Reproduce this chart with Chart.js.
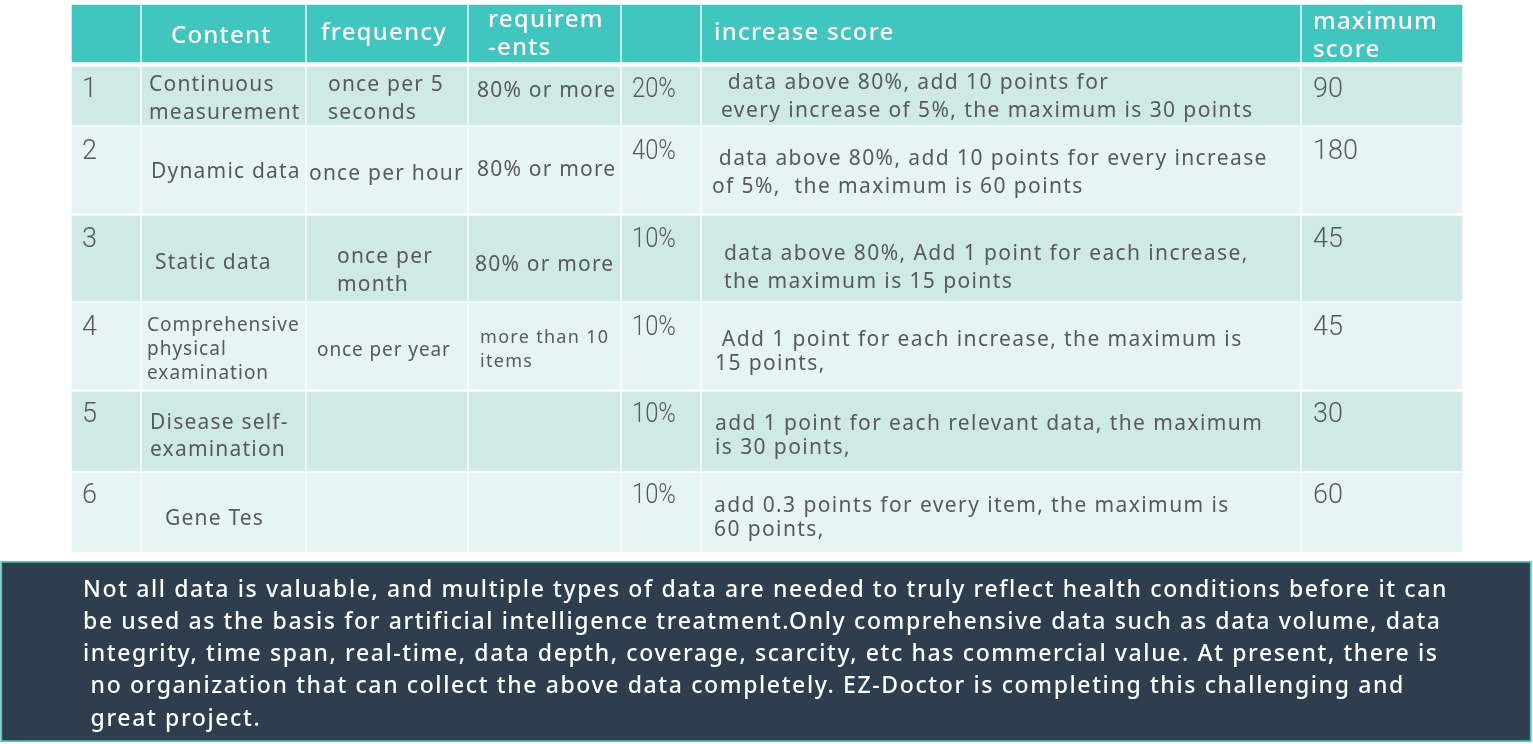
<!DOCTYPE html>
<html>
<head>
<meta charset="utf-8">
<script src="https://cdn.jsdelivr.net/npm/chart.js@4/dist/chart.umd.min.js"></script>
<style>
  html, body { margin: 0; padding: 0; background: #ffffff; }
  canvas { display: block; }
</style>
</head>
<body>
<canvas id="c" width="1533" height="744"></canvas>
<script>
// ---------- DATA ----------
const headers = ['', 'Content', 'frequency', 'requirem\n-ents', '', 'increase score', 'maximum\nscore'];
const ids = ['1', '2', '3', '4', '5', '6'];
const contents = ['Continuous\nmeasurement', 'Dynamic data', 'Static data', 'Comprehensive\nphysical\nexamination', 'Disease self-\nexamination', 'Gene Tes'];
const frequencies = ['once per 5\nseconds', 'once per hour', 'once per\nmonth', 'once per year', '', ''];
const requirements = ['80% or more', '80% or more', '80% or more', 'more than 10\nitems', '', ''];
const weights = ['20%', '40%', '10%', '10%', '10%', '10%'];
const increaseScores = [
  ' data above 80%, add 10 points for\nevery increase of 5%, the maximum is 30 points',
  ' data above 80%, add 10 points for every increase\nof 5%,  the maximum is 60 points',
  'data above 80%, Add 1 point for each increase,\nthe maximum is 15 points',
  ' Add 1 point for each increase, the maximum is\n15 points,',
  'add 1 point for each relevant data, the maximum\nis 30 points,',
  'add 0.3 points for every item, the maximum is\n60 points,'
];
const maxScores = [90, 180, 45, 45, 30, 60];
const note = [
  'Not all data is valuable, and multiple types of data are needed to truly reflect health conditions before it can',
  'be used as the basis for artificial intelligence treatment.Only comprehensive data such as data volume, data',
  'integrity, time span, real-time, data depth, coverage, scarcity, etc has commercial value. At present, there is',
  ' no organization that can collect the above data completely. EZ-Doctor is completing this challenging and',
  ' great project.'
];

// ---------- LAYOUT (table geometry in scale units) ----------
const colEdges = [[72,140],[142,305],[307,467],[469,620],[622,700],[702,1300],[1302,1462]];
const rowEdges = [[5,62],[67,125],[127,213],[216,301],[303,389],[392,471],[473,552]];
const noteBox = { x: [0.5, 1531.5], y: [561, 742] };
const rowFill = ['#41c6bf', '#cfeae6', '#e6f4f3', '#cfeae6', '#e6f4f3', '#cfeae6', '#e6f4f3'];

// text placement per column: [dx, dy(first line center), lineHeight] per body row
const place = {
  id:   [[10,23],[10,25],[10,24],[10,25],[10,23],[10,23]],
  cont: [[7,18,28],[9,45,28],[13,47,28],[5,23,24],[8,31,27],[23,46,28]],
  freq: [[21,18,28],[2,47,28],[30,41,28],[10,48,24],[0,0,0],[0,0,0]],
  req:  [[8,24,28],[8,43,28],[6,49,28],[11,35,24],[0,0,0],[0,0,0]],
  inc:  [[19,16,28],[10,32,28],[22,38,28],[13,37,24],[13,32,24],[12,33,24]]
};
const headPlace = [null,[29,31,28],[14,28,28],[19,15,28],null,[12,28,28],[11,17,28]];

// ---------- DATASETS: each table row is a dataset of floating bars ----------
const datasets = rowEdges.map((r, i) => ({
  data: colEdges.map(c => ({ x: [c[0], c[1]], y: (r[0] + r[1]) / 2 })),
  backgroundColor: rowFill[i],
  barThickness: r[1] - r[0],
  borderWidth: 0,
  grouped: false
}));
datasets.push({
  data: [{ x: noteBox.x, y: (noteBox.y[0] + noteBox.y[1]) / 2 }],
  backgroundColor: '#2f3e4f',
  borderColor: '#4cc6bb',
  borderWidth: 2,
  borderSkipped: false,
  barThickness: noteBox.y[1] - noteBox.y[0],
  grouped: false
});

function drawLines(ctx, text, x, y, lh) {
  text.split('\n').forEach((t, k) => ctx.fillText(t, x, y + k * lh));
}

const textPlugin = {
  id: 'tableText',
  afterDatasetsDraw(chart) {
    const ctx = chart.ctx;
    const xs = chart.scales.x, ys = chart.scales.y;
    const px = v => xs.getPixelForValue(v);
    const py = v => ys.getPixelForValue(v);
    ctx.save();
    ctx.textBaseline = 'middle';
    ctx.textAlign = 'left';

    // header
    ctx.fillStyle = '#ffffff';
    ctx.font = '500 24px "Noto Sans"';
    ctx.letterSpacing = '1.2px';
    headers.forEach((h, c) => {
      const p = headPlace[c];
      if (!h || !p) return;
      drawLines(ctx, h, px(colEdges[c][0] + p[0]), py(rowEdges[0][0] + p[1]), p[2]);
    });

    // body
    for (let i = 0; i < 6; i++) {
      const top = rowEdges[i + 1][0];
      ctx.fillStyle = '#595959';
      // thin numerals
      ctx.font = '300 27px Roboto';
      ctx.letterSpacing = '0px';
      const pi = place.id[i];
      ctx.fillText(ids[i], px(colEdges[0][0] + pi[0]), py(top + pi[1]));
      ctx.save();
      const wx = px(colEdges[4][0] + 10), wy = py(top + pi[1]);
      ctx.translate(wx, wy); ctx.scale(0.88, 1);
      ctx.fillText(weights[i], 0, 0);
      ctx.restore();
      ctx.fillText(String(maxScores[i]), px(colEdges[6][0] + 11), wy);

      const small = (i === 3);
      // content column
      ctx.font = (small ? '19px' : '21px') + ' "Noto Sans"';
      ctx.letterSpacing = small ? '1px' : '1.2px';
      let p = place.cont[i];
      drawLines(ctx, contents[i], px(colEdges[1][0] + p[0]), py(top + p[1]), p[2]);
      // frequency column
      ctx.letterSpacing = small ? '0.9px' : '1.2px';
      p = place.freq[i];
      if (frequencies[i]) drawLines(ctx, frequencies[i], px(colEdges[2][0] + p[0]), py(top + p[1]), p[2]);
      // requirement column
      p = place.req[i];
      ctx.font = (small ? '18px' : '21px') + ' "Noto Sans"';
      ctx.letterSpacing = small ? '1.3px' : '1.2px';
      if (requirements[i]) drawLines(ctx, requirements[i], px(colEdges[3][0] + p[0]), py(top + p[1]), p[2]);
      // increase score column
      p = place.inc[i];
      ctx.font = '21px "Noto Sans"';
      ctx.letterSpacing = '1.4px';
      drawLines(ctx, increaseScores[i], px(colEdges[5][0] + p[0]), py(top + p[1]), p[2]);
    }

    // note
    ctx.fillStyle = '#ffffff';
    ctx.font = '500 23px "Noto Sans"';
    ctx.letterSpacing = '1.62px';
    note.forEach((t, k) => ctx.fillText(t, px(83), py(590 + k * 32.3)));
    ctx.restore();
  }
};

new Chart(document.getElementById('c'), {
  type: 'bar',
  data: { labels: [], datasets },
  options: {
    indexAxis: 'y',
    responsive: false,
    animation: false,
    layout: { padding: 0 },
    plugins: { legend: { display: false }, tooltip: { enabled: false } },
    scales: {
      x: { type: 'linear', min: 0, max: 1533, display: false, offset: false },
      y: { type: 'linear', min: 0, max: 744, reverse: true, display: false, offset: false }
    }
  },
  plugins: [textPlugin]
});
</script>
</body>
</html>
